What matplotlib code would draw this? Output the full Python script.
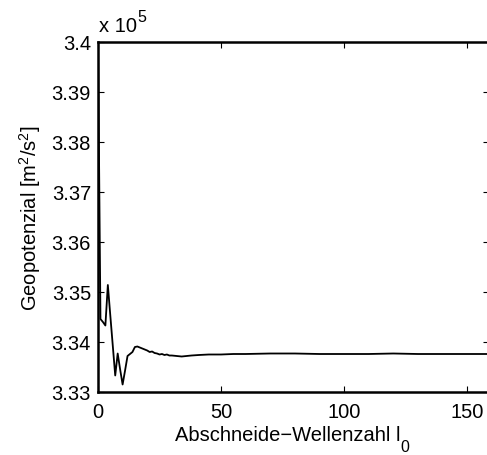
import numpy as np
import matplotlib.pyplot as plt

plt.rcParams['font.family'] = ['Liberation Sans', 'DejaVu Sans']
plt.rcParams['mathtext.fontset'] = 'custom'
plt.rcParams['mathtext.rm'] = 'Liberation Sans'
plt.rcParams['mathtext.it'] = 'Liberation Sans'

# Abschneide-Wellenzahl l0 und Geopotenzial (in 1e5 m^2/s^2)
l0 = [0, 1, 2, 3, 4, 5, 6, 7, 8, 9, 10, 11, 12, 13, 14, 15, 16, 17, 18, 19,
      20, 21, 22, 23, 24, 25, 26, 27, 28, 29, 30, 32, 34, 36, 38, 41, 45, 50,
      55, 60, 70, 80, 90, 100, 110, 120, 130, 140, 150, 160]
geopot = [3.4000, 3.3446, 3.3440, 3.3433, 3.3514, 3.3453, 3.3393, 3.3333,
          3.3377, 3.3345, 3.3315, 3.3343, 3.3372, 3.3376, 3.3380, 3.3390,
          3.3391, 3.3389, 3.3387, 3.3385, 3.3383, 3.3380, 3.3381, 3.3378,
          3.3377, 3.3375, 3.3376, 3.3374, 3.3375, 3.3373, 3.3373, 3.3372,
          3.3371, 3.3372, 3.3373, 3.3374, 3.3375, 3.3375, 3.3376, 3.3376,
          3.3377, 3.3377, 3.3376, 3.3376, 3.3376, 3.3377, 3.3376, 3.3376,
          3.3376, 3.3376]

yticks = [3.33, 3.34, 3.35, 3.36, 3.37, 3.38, 3.39, 3.4]
ytick_labels = ['3.33', '3.34', '3.35', '3.36', '3.37', '3.38', '3.39', '3.4']
xticks = [0, 50, 100, 150]

fs = 14.5
fs_idx = 11.5
W, H = 487, 456

fig = plt.figure(figsize=(W / 100, H / 100), dpi=100)
ax = fig.add_axes([98 / W, 63 / H, 391 / W, 350 / H])

ax.plot(l0, geopot, color='black', linewidth=1.3)

ax.set_xlim(0, 158.9)
ax.set_ylim(3.33, 3.4)
ax.set_xticks(xticks)
ax.set_yticks(yticks)
ax.set_yticklabels(ytick_labels)
ax.tick_params(direction='in', length=4, width=0.8, labelsize=fs,
               top=True, right=True)
ax.tick_params(axis='x', pad=7)
ax.tick_params(axis='y', pad=5)
for s in ax.spines.values():
    s.set_linewidth(1.8)

ax.set_ylabel('Geopotenzial [m$^2$/s$^2$]', fontsize=fs, labelpad=6)


def text_with_index(x_px, base_px, main, idx, shift_px, ha='left'):
    # main text plus a smaller index raised or lowered by shift_px
    renderer = fig.canvas.get_renderer()
    t = fig.text(0, base_px / H, main, fontsize=fs, va='baseline')
    w_main = t.get_window_extent(renderer).width
    t2 = fig.text(0, (base_px + shift_px) / H, idx, fontsize=fs_idx,
                  va='baseline')
    w_idx = t2.get_window_extent(renderer).width
    left = x_px - (w_main + w_idx) / 2 if ha == 'center' else x_px
    t.set_x(left / W)
    t2.set_x((left + w_main) / W)


# x-label with l_0, centred under the axes
text_with_index(292, H - 441.5, 'Abschneide\u2212Wellenzahl l', '0', -11,
                ha='center')
# exponent above the y axis
text_with_index(99, H - 32, 'x 10', '5', 10)

fig.savefig('out.png', dpi=100)
